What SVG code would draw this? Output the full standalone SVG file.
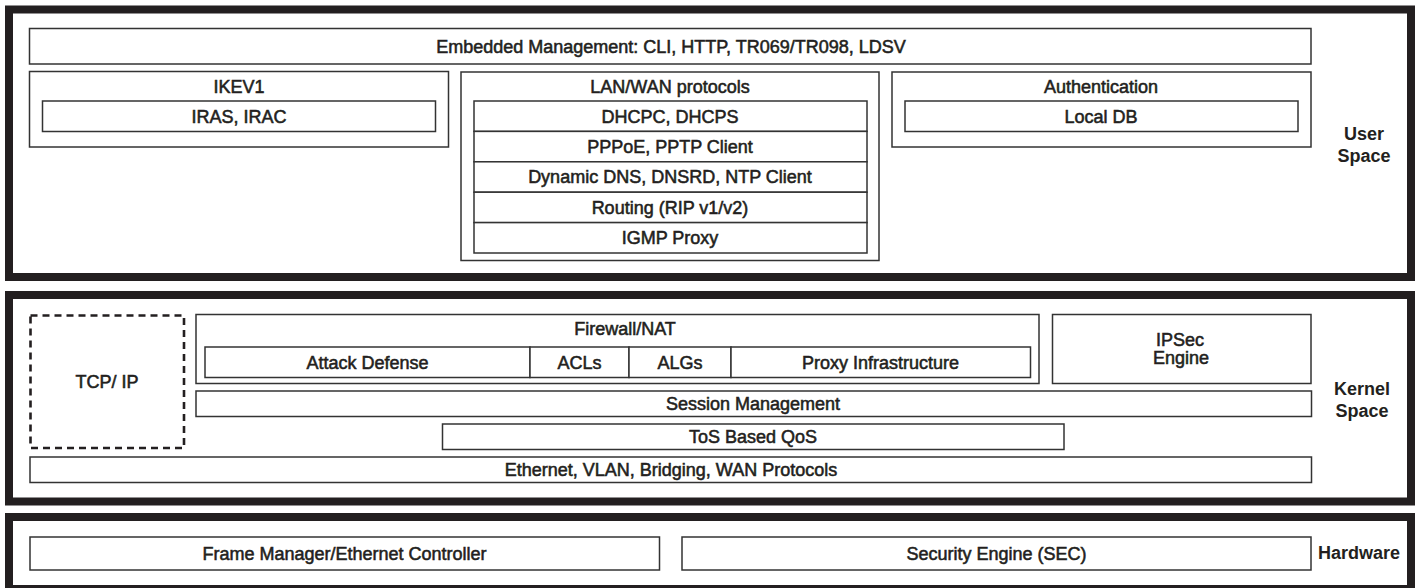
<svg xmlns="http://www.w3.org/2000/svg" width="1420" height="588" viewBox="0 0 1420 588">
<style>
.frame{fill:none;stroke:#231f20;stroke-width:8}
.box{fill:#fff;stroke:#333;stroke-width:1.5}
.dash{fill:#fff;stroke:#231f20;stroke-width:2.6;stroke-dasharray:7 5}
.t{font-family:"Liberation Sans",Arial,Helvetica,sans-serif;font-size:18px;fill:#231f20;stroke:#231f20;stroke-width:0.55;text-anchor:middle}
.lbl{font-family:"Liberation Sans",Arial,Helvetica,sans-serif;font-size:18px;font-weight:bold;fill:#231f20;text-anchor:middle}
</style>
<rect width="1420" height="588" fill="#fff"/>
<g id="user-space">
  <rect class="frame" x="9" y="9.5" width="1402" height="267.5"/>
  <text class="lbl" x="1364" y="140">User</text>
  <text class="lbl" x="1364" y="162">Space</text>
</g>
<g id="kernel-space">
  <rect class="frame" x="9" y="295" width="1402" height="206.5"/>
  <text class="lbl" x="1362" y="395">Kernel</text>
  <text class="lbl" x="1362" y="417">Space</text>
</g>
<g id="hardware">
  <rect class="frame" x="9" y="517" width="1402" height="72"/>
  <text class="lbl" x="1359" y="559">Hardware</text>
</g>
<g id="embedded-mgmt">
  <rect class="box" x="29.5" y="28.5" width="1281.5" height="35.5"/>
  <text class="t" x="671" y="52.5">Embedded Management: CLI, HTTP, TR069/TR098, LDSV</text>
</g>
<g id="ikev1">
  <rect class="box" x="29.5" y="71.5" width="419" height="75.5"/>
  <text class="t" x="239" y="93">IKEV1</text>
  <rect class="box" x="42.5" y="101" width="393" height="30.5"/>
  <text class="t" x="239" y="122.5">IRAS, IRAC</text>
</g>
<g id="lan-wan">
  <rect class="box" x="461" y="72" width="418" height="188.5"/>
  <text class="t" x="670" y="93">LAN/WAN protocols</text>
  <rect class="box" x="474" y="101" width="393" height="30.4"/>
  <text class="t" x="670" y="122.5">DHCPC, DHCPS</text>
  <rect class="box" x="474" y="131.4" width="393" height="30.4"/>
  <text class="t" x="670" y="152.8">PPPoE, PPTP Client</text>
  <rect class="box" x="474" y="161.8" width="393" height="30.4"/>
  <text class="t" x="670" y="183.2">Dynamic DNS, DNSRD, NTP Client</text>
  <rect class="box" x="474" y="192.2" width="393" height="30.4"/>
  <text class="t" x="670" y="213.6">Routing (RIP v1/v2)</text>
  <rect class="box" x="474" y="222.6" width="393" height="30.4"/>
  <text class="t" x="670" y="244">IGMP Proxy</text>
</g>
<g id="authentication">
  <rect class="box" x="892" y="72" width="419" height="75"/>
  <text class="t" x="1101" y="93">Authentication</text>
  <rect class="box" x="905" y="101" width="393" height="30.5"/>
  <text class="t" x="1101" y="122.5">Local DB</text>
</g>
<g id="tcp-ip">
  <rect class="dash" x="30.5" y="315.5" width="153.5" height="132.5"/>
  <text class="t" x="107" y="388">TCP/ IP</text>
</g>
<g id="firewall-nat">
  <rect class="box" x="196" y="314.5" width="843" height="69"/>
  <text class="t" x="625" y="335">Firewall/NAT</text>
  <rect class="box" x="205" y="347" width="325" height="30.5"/>
  <text class="t" x="367.5" y="368.5">Attack Defense</text>
  <rect class="box" x="530" y="347" width="99" height="30.5"/>
  <text class="t" x="579.5" y="368.5">ACLs</text>
  <rect class="box" x="629" y="347" width="102" height="30.5"/>
  <text class="t" x="680" y="368.5">ALGs</text>
  <rect class="box" x="731" y="347" width="299.5" height="30.5"/>
  <text class="t" x="880.5" y="368.5">Proxy Infrastructure</text>
</g>
<g id="ipsec-engine">
  <rect class="box" x="1052.5" y="314.5" width="258.5" height="69"/>
  <text class="t" x="1180" y="345.5">IPSec</text>
  <text class="t" x="1181" y="364">Engine</text>
</g>
<g id="session-mgmt">
  <rect class="box" x="196" y="391" width="1115.5" height="25.5"/>
  <text class="t" x="753" y="410">Session Management</text>
</g>
<g id="tos-qos">
  <rect class="box" x="442.5" y="424" width="621.5" height="25.5"/>
  <text class="t" x="753" y="443">ToS Based QoS</text>
</g>
<g id="ethernet">
  <rect class="box" x="30" y="457" width="1281.5" height="25.5"/>
  <text class="t" x="671" y="476">Ethernet, VLAN, Bridging, WAN Protocols</text>
</g>
<g id="frame-manager">
  <rect class="box" x="30" y="537" width="629.5" height="33"/>
  <text class="t" x="344.5" y="559.5">Frame Manager/Ethernet Controller</text>
</g>
<g id="security-engine">
  <rect class="box" x="682" y="537" width="629" height="33"/>
  <text class="t" x="996.5" y="559.5">Security Engine (SEC)</text>
</g>
<g id="connectors"></g>
</svg>
